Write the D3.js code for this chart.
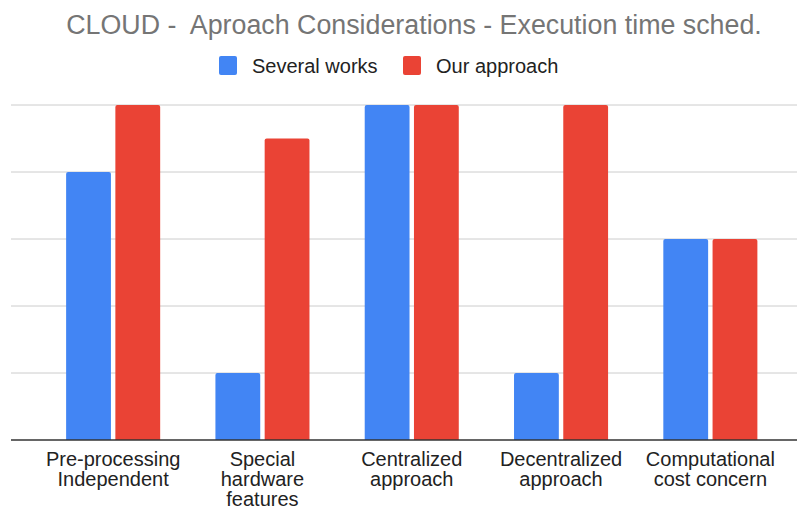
<!DOCTYPE html>
<html><head><meta charset="utf-8">
<script src="https://cdn.jsdelivr.net/npm/d3@7"></script>
<style>body{margin:0;background:#fff}svg{display:block;font-family:"Liberation Sans",Arial,sans-serif}</style>
</head><body><svg id="c" width="799" height="509"></svg>
<script>
const categories = [["Pre-processing","Independent"],["Special","hardware","features"],["Centralized","approach"],["Decentralized","approach"],["Computational","cost concern"]];
const seriesNames = ["Several works","Our approach"];
const severalWorks = [4,1,5,1,3];
const ourApproach = [5,4.5,5,5,3];
const yTicks = [0,1,2,3,4,5];
const colors = ["#4285f4","#ea4335"];

const svg = d3.select("#c");
const x0 = d3.scaleBand().domain(d3.range(categories.length)).range([38.5,785]).paddingInner(0.37).paddingOuter(0.185);
const x1 = d3.scaleBand().domain([0,1]).range([0,x0.bandwidth()]).paddingInner(0.09);
const y = d3.scaleLinear().domain([0,5]).range([440,105]);

// gridlines
svg.append("g").selectAll("line").data(yTicks.filter(d=>d>0)).join("line")
  .attr("x1",11).attr("x2",797).attr("y1",d=>y(d)).attr("y2",d=>y(d))
  .attr("stroke","#cccccc").attr("stroke-width",1);

const data = categories.map((c,i)=>[severalWorks[i],ourApproach[i]]);
const g = svg.append("g");
data.forEach((vals,i)=>{
  vals.forEach((v,s)=>{
    const bx = x0(i)+x1(s), bw = x1.bandwidth(), top=y(v), h=y(0)-y(v), r=2;
    g.append("path").attr("fill",colors[s])
      .attr("d",`M${bx},${top+h}V${top+r}Q${bx},${top} ${bx+r},${top}H${bx+bw-r}Q${bx+bw},${top} ${bx+bw},${top+r}V${top+h}Z`);
  });
});

// baseline
svg.append("line").attr("x1",11).attr("x2",797).attr("y1",y(0)).attr("y2",y(0)).attr("stroke","#333").attr("stroke-width",1.5);

// x labels
const lab = svg.append("g");
categories.forEach((lines,i)=>{
  const cx = x0(i)+x0.bandwidth()/2;
  const t = lab.append("text").attr("x",cx).attr("y",466)
    .attr("text-anchor","middle").attr("font-size",20).attr("fill","#222");
  lines.forEach((l,k)=>t.append("tspan").attr("x",cx).attr("dy",k?20:0).text(l));
});

// title
svg.append("text").attr("x",414).attr("y",33.5).attr("text-anchor","middle")
  .attr("font-size",26.8).attr("fill","#757575").style("white-space","pre")
  .text("CLOUD -  Aproach Considerations - Execution time sched.");

// legend
const legX=[219,403];
seriesNames.forEach((n,s)=>{
  svg.append("rect").attr("x",legX[s]).attr("y",56).attr("width",18).attr("height",19).attr("rx",2).attr("fill",colors[s]);
  svg.append("text").attr("x",legX[s]+33).attr("y",72.5).attr("font-size",20).attr("fill","#222").text(n);
});
</script></body></html>
